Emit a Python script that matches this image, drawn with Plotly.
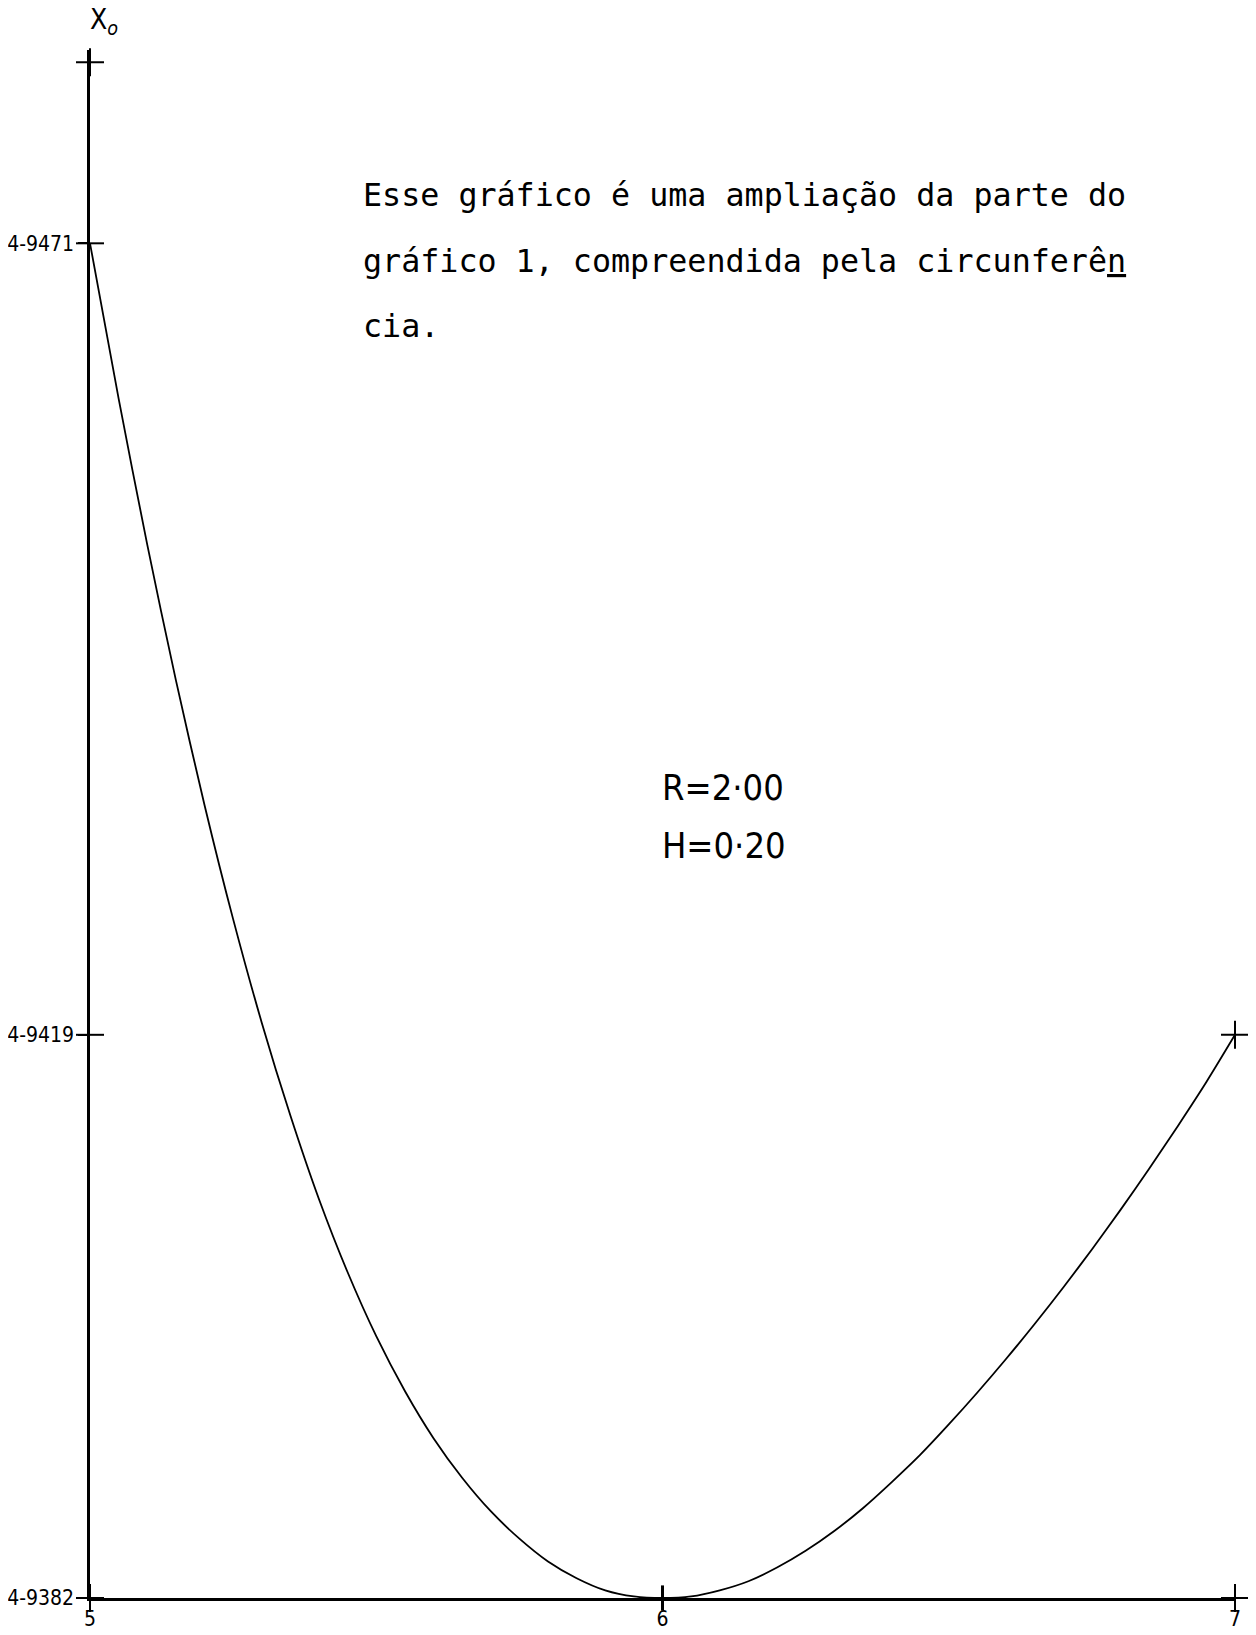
import plotly.graph_objects as go

# ---- data ----
curve_x = [5.00, 5.05, 5.10, 5.15, 5.20, 5.25, 5.30, 5.35, 5.40, 5.45,
           5.50, 5.55, 5.60, 5.65, 5.70, 5.75, 5.80, 5.85, 5.90, 5.95,
           6.00, 6.05, 6.10, 6.15, 6.20, 6.25, 6.30, 6.35, 6.40, 6.45,
           6.50, 6.55, 6.60, 6.65, 6.70, 6.75, 6.80, 6.85, 6.90, 6.95, 7.00]
curve_y = [4.94710, 4.94608, 4.94512, 4.94423, 4.94341, 4.94266, 4.94198, 4.94137,
           4.94082, 4.94034, 4.93992, 4.93956, 4.93925, 4.93899, 4.93877, 4.93859,
           4.93844, 4.93833, 4.93825, 4.93821,
           4.93820, 4.93821, 4.93825, 4.93831, 4.93840, 4.93851, 4.93864, 4.93879,
           4.93896, 4.93914, 4.93934, 4.93955, 4.93977, 4.94000, 4.94024, 4.94049,
           4.94075, 4.94102, 4.94130, 4.94159, 4.94190]

x_ticks = [5, 6, 7]
x_tick_labels = ["5", "6", "7"]
y_ticks = [4.9471, 4.9419, 4.9382]
y_tick_labels = ["4-9471", "4-9419", "4-9382"]

# plotter "+" marks at axis ends / corners
plus_x = [5, 7, 7, 5]
plus_y = [4.94829, 4.9419, 4.9382, 4.9382]

y_min, y_max = 4.9382, 4.94837
x_min, x_max = 5, 7

text_lines = ["Esse gráfico é uma ampliação da parte do",
              "gráfico 1, compreendida pela circunferê<u>n</u>",
              "cia."]
param_lines = ["R=2·00", "H=0·20"]

PLOTTER = "DejaVu Sans Condensed, Liberation Sans Narrow, Arial Narrow, sans-serif"
TYPED = "DejaVu Sans Mono, Liberation Mono, monospace"

# page body has a small default margin, so the figure is sized to fit inside it
W, H = 1240, 1627
ML, MR, MT, MB = 82, 13, 42, 37

fig = go.Figure()
fig.add_trace(go.Scatter(x=curve_x, y=curve_y, mode="lines",
                         line=dict(color="black", width=1.8, shape="spline", smoothing=0.8),
                         hoverinfo="skip", cliponaxis=False))
fig.add_trace(go.Scatter(x=plus_x, y=plus_y, mode="markers",
                         marker=dict(symbol="cross-thin", size=20,
                                     line=dict(color="black", width=2)),
                         cliponaxis=False, hoverinfo="skip"))
fig.add_trace(go.Scatter(x=[5, 5], y=y_ticks[:2], mode="markers",
                         marker=dict(symbol="line-ew", size=20,
                                     line=dict(color="black", width=2)),
                         cliponaxis=False, hoverinfo="skip"))
fig.add_trace(go.Scatter(x=[6], y=[y_min], mode="markers",
                         marker=dict(symbol="line-ns", size=18,
                                     line=dict(color="black", width=3)),
                         cliponaxis=False, hoverinfo="skip"))

fig.update_layout(
    width=W, height=H,
    margin=dict(l=ML, r=MR, t=MT, b=MB, pad=0, autoexpand=False),
    paper_bgcolor="white", plot_bgcolor="white",
    showlegend=False,
    xaxis=dict(range=[x_min, x_max], showgrid=False, zeroline=False, automargin=False,
               showline=True, linecolor="black", linewidth=2.5,
               tickvals=x_ticks, ticktext=x_tick_labels, ticks="",
               tickfont=dict(family=PLOTTER, size=21, color="black")),
    yaxis=dict(range=[y_min, y_max], showgrid=False, zeroline=False, automargin=False,
               showline=True, linecolor="black", linewidth=2.5,
               tickvals=y_ticks, ticktext=y_tick_labels,
               ticks="outside", ticklen=9, tickwidth=2, tickcolor="black",
               tickfont=dict(family=PLOTTER, size=21, color="black")),
)

# y-axis name
fig.add_annotation(x=0, y=1, xref="paper", yref="paper", xshift=14, yshift=29,
                   xanchor="center", yanchor="middle",
                   text="X<sub><i>o</i></sub>", showarrow=False,
                   font=dict(family=PLOTTER, size=28, color="black"))

# explanatory typed text
text_y = [0.9064, 0.8638, 0.8218]
for line, yy in zip(text_lines, text_y):
    fig.add_annotation(x=0.2367, y=yy, xref="paper", yref="paper",
                       xanchor="left", yanchor="middle", text=line, showarrow=False,
                       font=dict(family=TYPED, size=31.7, color="black"))

param_y = [0.5239, 0.4858]
for line, yy in zip(param_lines, param_y):
    fig.add_annotation(x=0.498, y=yy, xref="paper", yref="paper",
                       xanchor="left", yanchor="middle", text=line, showarrow=False,
                       font=dict(family=PLOTTER, size=36, color="black"))

fig.write_html("out.html")
